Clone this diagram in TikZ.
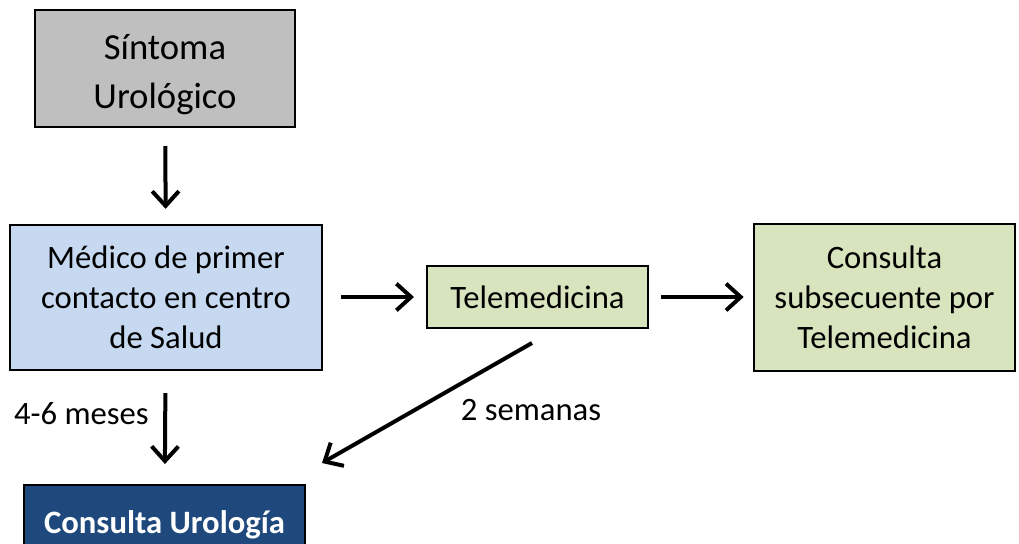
\documentclass[tikz,border=0pt]{standalone}
\usepackage{fontspec}
\setmainfont{Carlito}
\usetikzlibrary{arrows.meta}

\definecolor{symgray}{HTML}{BFBFBF}
\definecolor{medblue}{HTML}{C6D9F1}
\definecolor{telegreen}{HTML}{D7E4BD}
\definecolor{urodark}{HTML}{1F497D}

% text block set a little lower inside its box
\newcommand{\lowered}[2]{\raisebox{-#1}[\height][\depth]{\begin{tabular}{@{}c@{}}#2\end{tabular}}}

\tikzset{
  box/.style={draw=black, line width=1.5pt, align=center, inner sep=0pt,
    font=\fontsize{24.5}{30}\selectfont},
  flow/.style={-{Straight Barb[length=11pt,width=20pt,line width=3pt]}, line width=3pt},
  lbl/.style={font=\fontsize{24.5}{30}\selectfont, inner sep=0pt}
}

\begin{document}
\begin{tikzpicture}[x=0.75pt, y=-0.75pt]
\useasboundingbox (0,0) rectangle (1019,543);
\clip (0,0) rectangle (1019,543);

\node[box, fill=symgray, minimum width=195pt, minimum height=87.75pt,
  font=\fontsize{27.5}{36.75}\selectfont] (sint) at (165, 68.5) {\lowered{4.5pt}{Síntoma\\Urológico}};
\node[box, fill=medblue, minimum width=234pt, minimum height=108.75pt] (medico) at (166, 297) {\lowered{2.5pt}{Médico de primer\\contacto en centro\\de Salud}};
\node[box, fill=telegreen, minimum width=165.75pt, minimum height=46.5pt] (tele) at (537.5, 297) {Telemedicina};
\node[box, fill=telegreen, minimum width=195.75pt, minimum height=110.25pt] (subs) at (884.5, 297) {\lowered{2.5pt}{Consulta\\subsecuente por\\Telemedicina}};
\node[box, fill=urodark, text=white, minimum width=210.75pt, minimum height=60pt,
  font=\fontsize{24.5}{30}\selectfont\bfseries] (uro) at (164.5, 525) {Consulta Urología};

\coordinate (dstart) at (532, 343);
\coordinate (dend) at (322, 463);

\draw[flow, shorten <=13.5pt, shorten >=11pt] (sint) -- (medico);
\draw[flow, shorten <=13.5pt, shorten >=9pt] (medico) -- (tele);
\draw[flow, shorten <=9pt, shorten >=7pt] (tele) -- (subs);
\draw[flow, shorten <=17pt, shorten >=15pt] (medico) -- (uro);
\draw[flow] (dstart) -- (dend);

\node[lbl, anchor=east] (meses) at (149, 414) {4-6 meses};
\node[lbl] (semanas) at (531, 410) {2 semanas};
\end{tikzpicture}
\end{document}
